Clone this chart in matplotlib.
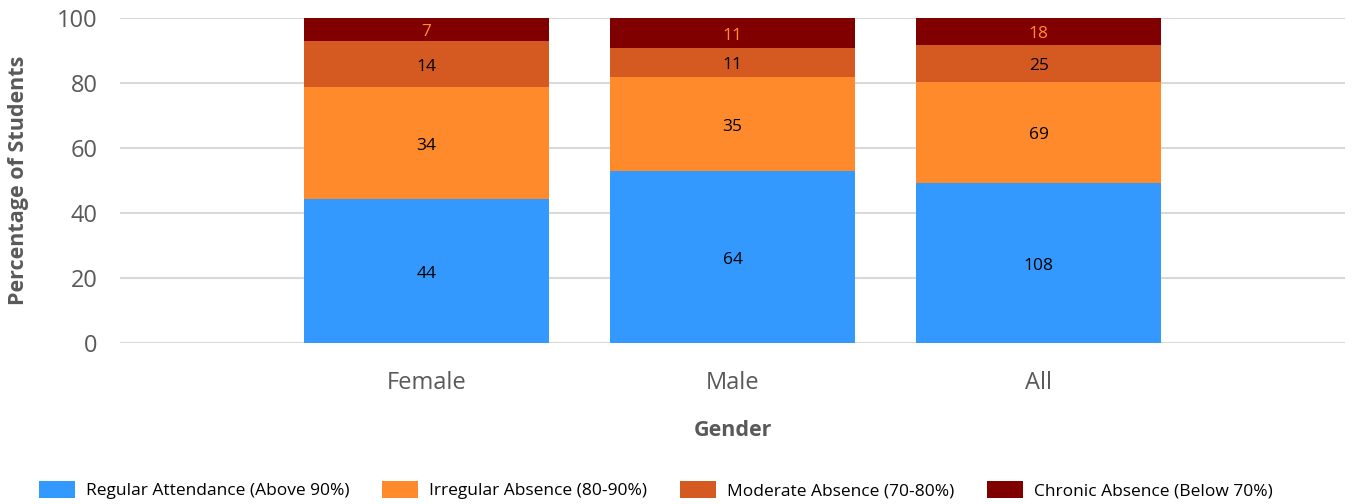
import matplotlib
matplotlib.use("Agg")
import matplotlib.pyplot as plt
import numpy as np

plt.rcParams["font.family"] = ["Open Sans", "DejaVu Sans"]

genders = ["Female", "Male", "All"]
series = [
    "Regular Attendance (Above 90%)",
    "Irregular Absence (80-90%)",
    "Moderate Absence (70-80%)",
    "Chronic Absence (Below 70%)",
]
regular = [44, 64, 108]
irregular = [34, 35, 69]
moderate = [14, 11, 25]
chronic = [7, 11, 18]

colors = ["#3399ff", "#ff8a2b", "#d55a21", "#800000"]
label_colors = ["black", "black", "black", "#ff8c30"]

counts = np.array([regular, irregular, moderate, chronic], dtype=float)
totals = counts.sum(axis=0)
pct = counts / totals * 100

fig = plt.figure(figsize=(13.54, 5.04), dpi=100)
ax = fig.add_axes([120 / 1354, 1 - 343 / 504, 1225 / 1354, 325 / 504])

x = np.arange(len(genders))
bottom = np.zeros(len(genders))
for i, name in enumerate(series):
    bars = ax.bar(x, pct[i], 0.8, bottom=bottom, color=colors[i], label=name, zorder=3)
    for j, b in enumerate(bars):
        ax.annotate(f"{int(counts[i][j])}",
                    (b.get_x() + b.get_width() / 2, bottom[j] + pct[i][j] / 2),
                    textcoords="offset points", xytext=(0, -2),
                    ha="center", va="center", fontsize=12.5,
                    color=label_colors[i], zorder=4)
    bottom += pct[i]

ax.set_xlim(-1, 3)
ax.set_ylim(0, 100)
ax.set_yticks([0, 20, 40, 60, 80, 100])
ax.set_xticks(x)
ax.set_xticklabels(genders)
ax.tick_params(axis="y", length=0, labelsize=17, labelcolor="#595959", pad=16)
ax.tick_params(axis="x", length=0, labelsize=17, labelcolor="#595959", pad=20)
ax.grid(axis="y", color="#d9d9d9", linewidth=1.5, zorder=0)
for s in ax.spines.values():
    s.set_visible(False)

ax.set_ylabel("Percentage of Students", fontsize=15.5, fontweight="bold", color="#595959", labelpad=20)
ax.set_xlabel("Gender", fontsize=15.5, fontweight="bold", color="#595959", labelpad=18)

fig.legend(loc="lower left", bbox_to_anchor=(23 / 1354, -0.022), ncol=4, frameon=False,
           fontsize=12.5, handlelength=2.1, handleheight=1.1, handletextpad=0.6,
           columnspacing=1.9)

plt.savefig("out.png", dpi=100)
